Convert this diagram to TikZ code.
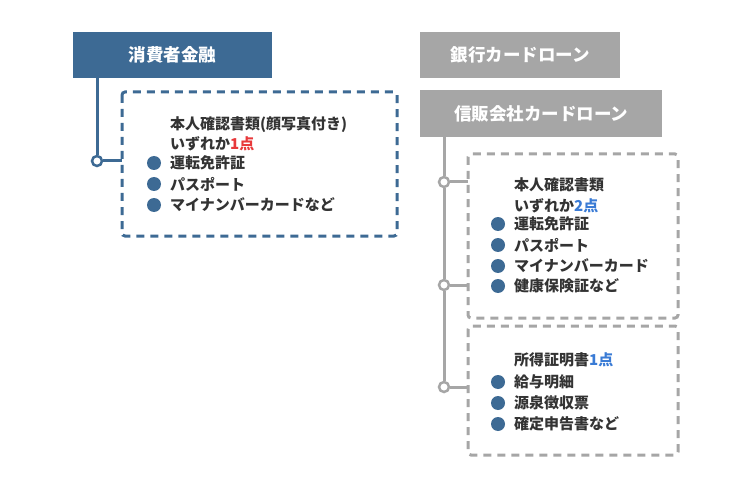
\documentclass[tikz,border=0pt]{standalone}
\usepackage{fontspec}
\setmainfont{Noto Sans CJK JP}
\begin{document}
\begin{tikzpicture}[x=1pt,y=-1pt,
  hdr/.style={draw=none,minimum height=46pt,text=white,font=\fontsize{17.5}{17.5}\selectfont\bfseries,anchor=north west,inner sep=0},
  txt/.style={anchor=west,inner sep=0,font=\fontsize{15}{15}\selectfont\bfseries,text=black!80},
  bul/.style={circle,fill=blueC,inner sep=0,minimum size=14pt},
  dot/.style={circle,draw,fill=white,line width=2.5pt,inner sep=0,minimum size=10pt}]
\definecolor{blueC}{HTML}{3D6A94}
\definecolor{grayC}{HTML}{A6A6A6}
\definecolor{redC}{HTML}{E8393B}
\definecolor{lblue}{HTML}{3A7BD5}
\useasboundingbox (0,0) rectangle (750,484);
% left
\node[hdr,fill=blueC,minimum width=199pt] (h1) at (73,32) {消費者金融};
\draw[blueC,line width=3pt,dash pattern=on 8pt off 6pt,rounded corners=3pt] (122,92) rectangle (397,236);
\coordinate (b1) at (122,161);
\node[dot,draw=blueC] (c1) at (97,161) {};
\draw[blueC,line width=3pt] (97,78) -- (c1.north);
\draw[blueC,line width=3pt] (c1.east) -- (b1);
\node[txt] (t1) at (170,125) {本人確認書類(顔写真付き)};
\node[txt] (t2) at (170,144) {いずれか\textcolor{redC}{1点}};
\foreach \y/\s [count=\i] in {163/運転免許証,184/パスポート,205/マイナンバーカードなど}{
  \node[bul] (lb\i) at (154,\y) {};
  \node[txt] (lt\i) at (170,\y) {\s};}
% right
\node[hdr,fill=grayC,minimum width=200pt] (h2) at (420,32) {銀行カードローン};
\node[hdr,fill=grayC,minimum width=242pt,minimum height=47pt] (h3) at (420,90) {信販会社カードローン};
\draw[grayC,line width=3pt,dash pattern=on 8pt off 6pt,rounded corners=3pt] (468,154) rectangle (678,318);
\draw[grayC,line width=3pt,dash pattern=on 8pt off 6pt,rounded corners=3pt] (468,326) rectangle (678,455);
\node[dot,draw=grayC] (d1) at (444,182) {};
\node[dot,draw=grayC] (d2) at (444,285) {};
\node[dot,draw=grayC] (d3) at (444,387) {};
\coordinate (e1) at (468,182);\coordinate (e2) at (468,285);\coordinate (e3) at (468,387);
\draw[grayC,line width=3pt] (444,137) -- (d1.north);
\draw[grayC,line width=3pt] (d1.south) -- (d2.north);
\draw[grayC,line width=3pt] (d2.south) -- (d3.north);
\foreach \i in {1,2,3}{\draw[grayC,line width=3pt] (d\i.east) -- (e\i);}
\node[txt] (r1) at (514,185) {本人確認書類};
\node[txt] (r2) at (514,206) {いずれか\textcolor{lblue}{2点}};
\foreach \y/\s [count=\i] in {224/運転免許証,245/パスポート,266/マイナンバーカード,286/健康保険証など}{
  \node[bul] (rb\i) at (498,\y) {};
  \node[txt] (rt\i) at (514,\y) {\s};}
\node[txt] (s1) at (514,360) {所得証明書\textcolor{lblue}{1点}};
\foreach \y/\s [count=\i] in {382/給与明細,403/源泉徴収票,424/確定申告書など}{
  \node[bul] (sb\i) at (498,\y) {};
  \node[txt] (st\i) at (514,\y) {\s};}
\end{tikzpicture}
\end{document}
